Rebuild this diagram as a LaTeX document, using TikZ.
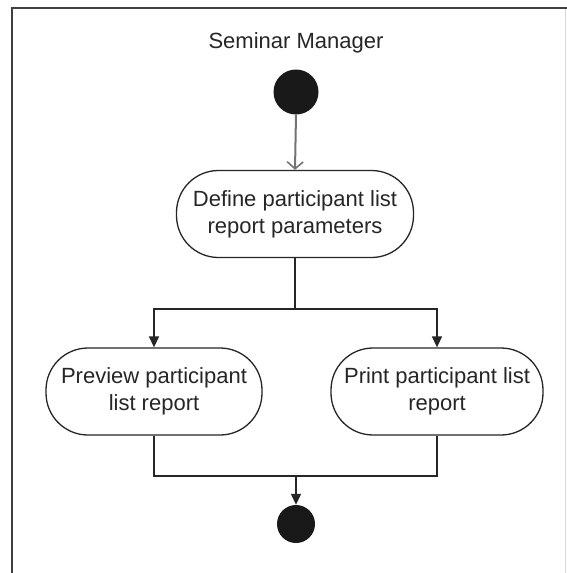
\documentclass[tikz,border=0pt]{standalone}
\usepackage{fontspec}
\setmainfont{Liberation Sans}
\usetikzlibrary{arrows.meta}
\begin{document}
\begin{tikzpicture}[x=1pt,y=-1pt,
  action/.style={draw=black!85, line width=1.3pt, rounded corners=42pt,
    minimum height=87pt, inner sep=0pt, align=center, text=black!85,
    font=\fontsize{22}{27}\selectfont},
  startdot/.style={circle, fill=black!90, inner sep=0pt, minimum size=45pt},
  enddot/.style={circle, fill=black!90, inner sep=0pt, minimum size=38pt},
  flow/.style={draw=black!85, line width=1.4pt},
  flowarrow/.style={flow, -{Triangle[length=11pt,width=10pt]}},
  frameline/.style={draw=black!75, line width=2pt}]
\useasboundingbox (0,0) rectangle (567,573);
\fill[white] (0,0) rectangle (567,573);

% swimlane frame
\draw[frameline] (12,573) -- (12,8) -- (567,8);
\draw[black!15, line width=0.8pt] (565,9) -- (565,573);

% lane title
\node[font=\fontsize{22}{26}\selectfont, text=black!85] (title) at (296,43) {Seminar Manager};

% nodes
\node[startdot] (start) at (296,92) {};
\node[action, minimum width=237pt] (define) at (295,214) {Define participant list\\report parameters};
\node[action, minimum width=216pt] (preview) at (154,391.5) {Preview participant\\list report};
\node[action, minimum width=212pt] (print) at (437,391.5) {Print participant list\\report};
\node[enddot] (final) at (296,524) {};

% fork and join points
\coordinate (split) at (295,309);
\coordinate (join) at (296,476);

% connectors
\draw[black!55, line width=2pt, -{Straight Barb[length=7pt,width=16pt,line width=1.6pt]}]
  (start.south) -- (define.north);
\draw[flow] (define.south) -- (split);
\draw[flowarrow] (split) -| (preview.north);
\draw[flowarrow] (split) -| (print.north);
\draw[flow] (preview.south) |- (join);
\draw[flow] (print.south) |- (join);
\draw[flowarrow] (join) -- (final.north);
\end{tikzpicture}
\end{document}
